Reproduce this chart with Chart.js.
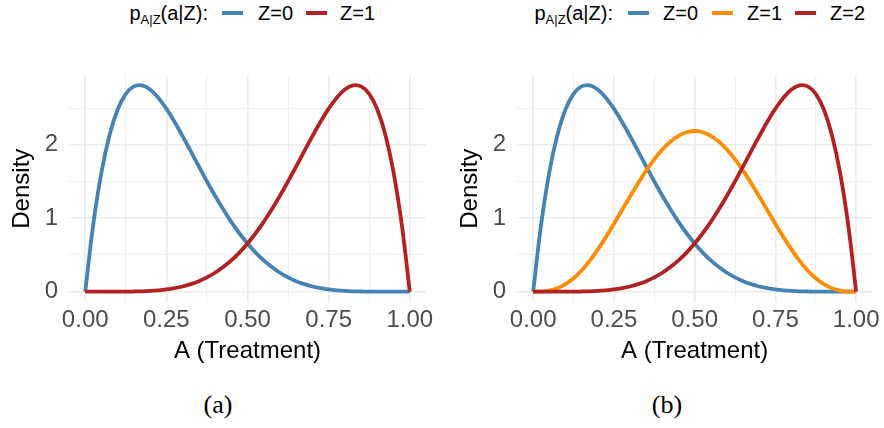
<!DOCTYPE html>
<html lang="en">
<head>
  <meta charset="UTF-8" />
  <title>Conditional densities of A given Z</title>
  <script src="https://cdn.jsdelivr.net/npm/chart.js"></script>
  <style>
    body { margin: 0; width: 884px; height: 428px; overflow: hidden; background: #fff;
           font-family: "Liberation Sans", Arial, sans-serif; position: relative; }
    canvas { position: absolute; top: 50px; }
    .leg { position: absolute; top: 0; font-size: 20px; line-height: 26px; color: #000; white-space: nowrap; }
    .leg sub { font-size: 13px; vertical-align: -4px; }
    .key { position: absolute; top: 11px; width: 21px; height: 4px; }
    .cap { position: absolute; top: 390px; width: 60px; text-align: center;
           font-family: "Liberation Serif", "Times New Roman", serif; font-size: 26px; }
  </style>
</head>
<body>
  <span class="leg" style="right:676px">p<sub>A|Z</sub>(a|Z):</span>
  <span class="key" style="left:222px;background:#4682B4"></span>
  <span class="leg" style="left:258px">Z=0</span>
  <span class="key" style="left:306px;background:#B22222"></span>
  <span class="leg" style="left:340px">Z=1</span>

  <span class="leg" style="right:271px">p<sub>A|Z</sub>(a|Z):</span>
  <span class="key" style="left:628px;background:#4682B4"></span>
  <span class="leg" style="left:663px">Z=0</span>
  <span class="key" style="left:712px;background:#FF8C00"></span>
  <span class="leg" style="left:747px">Z=1</span>
  <span class="key" style="left:795px;background:#B22222"></span>
  <span class="leg" style="left:830px">Z=2</span>

  <canvas id="chartA" width="440" height="320" style="left:0"></canvas>
  <canvas id="chartB" width="436" height="320" style="left:448px"></canvas>

  <div class="cap" style="left:188px">(a)</div>
  <div class="cap" style="left:637px">(b)</div>

  <script>
    // treatment values A
    const aValues = [0, 0.025, 0.05, 0.075, 0.1, 0.125, 0.15, 0.175, 0.2, 0.225,
      0.25, 0.275, 0.3, 0.325, 0.35, 0.375, 0.4, 0.425, 0.45, 0.475,
      0.5, 0.525, 0.55, 0.575, 0.6, 0.625, 0.65, 0.675, 0.7, 0.725,
      0.75, 0.775, 0.8, 0.825, 0.85, 0.875, 0.9, 0.925, 0.95, 0.975, 1];

    // density, skewed to the left
    const densLow = [0, 0.925, 1.625, 2.133, 2.480, 2.693, 2.795, 2.809, 2.753, 2.642,
      2.492, 2.314, 2.118, 1.913, 1.706, 1.502, 1.306, 1.122, 0.951, 0.796,
      0.656, 0.533, 0.426, 0.335, 0.258, 0.195, 0.143, 0.103, 0.071, 0.048,
      0.031, 0.019, 0.011, 0.006, 0.003, 0.001, 0.0004, 0.0001, 0, 0, 0];

    // symmetric bump in the middle (panel b, Z=1)
    const densMid = [0, 0.002, 0.015, 0.047, 0.102, 0.183, 0.290, 0.421, 0.573, 0.742,
      0.923, 1.110, 1.297, 1.478, 1.648, 1.802, 1.935, 2.043, 2.123, 2.171,
      2.188, 2.171, 2.123, 2.043, 1.935, 1.802, 1.648, 1.478, 1.297, 1.110,
      0.923, 0.742, 0.573, 0.421, 0.290, 0.183, 0.102, 0.047, 0.015, 0.002, 0];

    // skewed to the right
    const densHigh = [0, 0, 0, 0.0001, 0.0004, 0.001, 0.003, 0.006, 0.011, 0.019,
      0.031, 0.048, 0.071, 0.103, 0.143, 0.195, 0.258, 0.335, 0.426, 0.533,
      0.656, 0.796, 0.951, 1.122, 1.306, 1.502, 1.706, 1.913, 2.118, 2.314,
      2.492, 2.642, 2.753, 2.809, 2.795, 2.693, 2.480, 2.133, 1.625, 0.925, 0];

    // grid positions (major + minor) and the labels on the major ones
    const xGrid = [0, 0.125, 0.25, 0.375, 0.5, 0.625, 0.75, 0.875, 1];
    const xTickLabels = ['0.00', '0.25', '0.50', '0.75', '1.00'];
    const yGrid = [0, 0.5, 1, 1.5, 2, 2.5];
    const yTickLabels = ['0', '1', '2'];

    const BLUE = '#4682B4', RED = '#B22222', ORANGE = '#FF8C00';
    const GRID = '#EBEBEB';
    const FONT = 'Liberation Sans';

    function series(ys, color, order) {
      return {
        data: aValues.map((a, i) => ({ x: a, y: ys[i] })),
        borderColor: color,
        borderWidth: 3.8,
        pointRadius: 0,
        fill: false,
        tension: 0.4,
        order: order
      };
    }

    const isStep = (v, s) => Math.abs(v / s - Math.round(v / s)) < 1e-6;

    function makeChart(id, datasets) {
      return new Chart(document.getElementById(id), {
        type: 'line',
        data: { datasets: datasets },
        options: {
          responsive: false,
          animation: false,
          devicePixelRatio: 1,
          layout: { padding: { top: 14, right: id === 'chartA' ? 14 : 11 } },
          plugins: { legend: { display: false }, tooltip: { enabled: false } },
          scales: {
            x: {
              type: 'linear',
              min: -0.05, max: 1.05,
              afterBuildTicks: s => { s.ticks = xGrid.map(v => ({ value: v })); },
              afterFit: s => { s.height = 68; },
              border: { display: false },
              grid: {
                drawTicks: false,
                color: GRID,
                lineWidth: c => isStep(c.tick.value, 0.25) ? 1.6 : 0.8
              },
              ticks: {
                autoSkip: false, maxRotation: 0, minRotation: 0,
                padding: 4,
                color: '#4D4D4D',
                font: { family: FONT, size: 24 },
                callback: v => isStep(v, 0.25) ? xTickLabels[Math.round(v * 4)] : ''
              },
              title: {
                display: true, text: 'A (Treatment)', color: '#000',
                font: { family: FONT, size: 24 },
                padding: { top: 0, bottom: 4 }
              }
            },
            y: {
              min: -0.14, max: 2.945,
              afterBuildTicks: s => { s.ticks = yGrid.map(v => ({ value: v })); },
              afterFit: s => { s.width = 69; },
              border: { display: false },
              grid: {
                drawTicks: false,
                color: GRID,
                lineWidth: c => isStep(c.tick.value, 1) ? 1.6 : 0.8
              },
              ticks: {
                autoSkip: false,
                padding: 11,
                color: '#4D4D4D',
                font: { family: FONT, size: 24 },
                callback: v => isStep(v, 1) ? yTickLabels[Math.round(v)] : ''
              },
              title: {
                display: true, text: 'Density', color: '#000',
                font: { family: FONT, size: 24 },
                padding: { top: 8, bottom: 0 }
              }
            }
          }
        }
      });
    }

    makeChart('chartA', [series(densLow, BLUE, 2), series(densHigh, RED, 1)]);
    makeChart('chartB', [series(densLow, BLUE, 3), series(densMid, ORANGE, 2), series(densHigh, RED, 1)]);
  </script>
</body>
</html>
